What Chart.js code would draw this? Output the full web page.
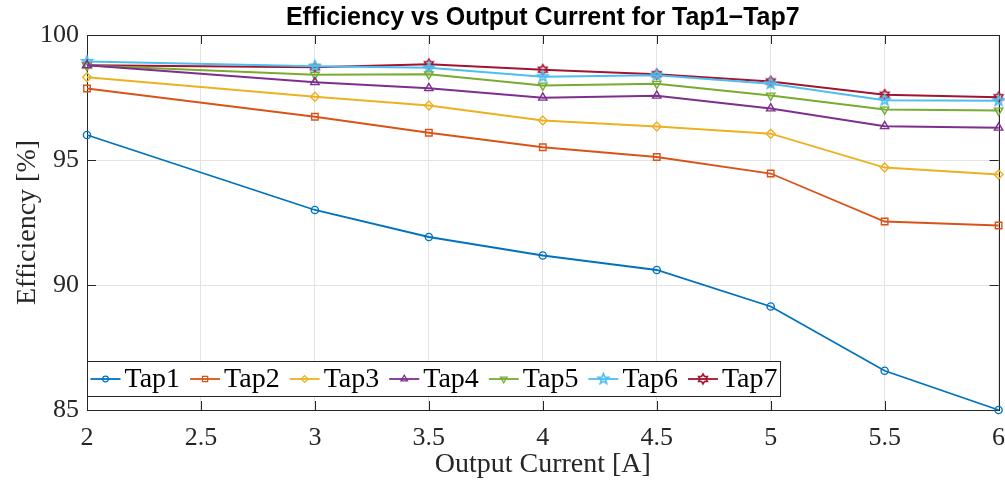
<!DOCTYPE html>
<html>
<head>
<meta charset="utf-8">
<title>Efficiency vs Output Current</title>
<script src="https://cdn.jsdelivr.net/npm/chart.js@4.4.1/dist/chart.umd.min.js"></script>
<style>
  html, body { margin: 0; padding: 0; background: #fff; }
</style>
</head>
<body>
<canvas id="myChart" width="1005" height="480"></canvas>
<script>
// datos medidos: corriente de salida [A] y eficiencia [%] por tap
const corriente = [2, 3, 3.5, 4, 4.5, 5, 5.5, 6];
const ticksX = [2, 2.5, 3, 3.5, 4, 4.5, 5, 5.5, 6];
const ticksY = [85, 90, 95, 100];

const taps = ["Tap1", "Tap2", "Tap3", "Tap4", "Tap5", "Tap6", "Tap7"];
const tap1 = [96.0, 93.0, 91.92, 91.18, 90.6, 89.14, 86.57, 85.0];
const tap2 = [97.86, 96.73, 96.09, 95.51, 95.12, 94.46, 92.54, 92.38];
const tap3 = [98.31, 97.53, 97.18, 96.58, 96.34, 96.05, 94.7, 94.42];
const tap4 = [98.79, 98.11, 97.87, 97.49, 97.57, 97.06, 96.35, 96.29];
const tap5 = [98.78, 98.41, 98.43, 97.98, 98.05, 97.58, 97.02, 96.98];
const tap6 = [98.94, 98.75, 98.69, 98.33, 98.39, 98.05, 97.39, 97.37];
const tap7 = [98.79, 98.71, 98.83, 98.61, 98.43, 98.14, 97.61, 97.51];

const colores = ["#0072BD", "#D95319", "#EDB120", "#7E2F8E", "#77AC30", "#4DBEEE", "#A2142F"];
const ejeColor = "#262626";

// marcadores de estrella (pentagrama y hexagrama) dibujados en un canvas chico
function estrella(puntas, color, r) {
    const c = document.createElement("canvas");
    const s = Math.ceil(r * 2 + 4);
    c.width = s;
    c.height = s;
    const ctx = c.getContext("2d");
    const ri = puntas === 5 ? r * 0.42 : r * 0.58;
    ctx.strokeStyle = color;
    ctx.lineWidth = 1.6;
    ctx.beginPath();
    for (let i = 0; i < puntas * 2; i++) {
        const a = -Math.PI / 2 + i * Math.PI / puntas;
        const rr = i % 2 === 0 ? r : ri;
        const px = s / 2 + rr * Math.cos(a);
        const py = s / 2 + rr * Math.sin(a);
        if (i === 0) ctx.moveTo(px, py); else ctx.lineTo(px, py);
    }
    ctx.closePath();
    ctx.stroke();
    return c;
}

const marcadores = [
    { pointStyle: "circle", pointRadius: 3.6, rotation: 0 },
    { pointStyle: "rect", pointRadius: 4.6, rotation: 0 },
    { pointStyle: "rectRot", pointRadius: 4.4, rotation: 0 },
    { pointStyle: "triangle", pointRadius: 4.8, rotation: 0 },
    { pointStyle: "triangle", pointRadius: 4.8, rotation: 180 },
    { pointStyle: estrella(5, colores[5], 5.5), pointRadius: 5, rotation: 0 },
    { pointStyle: estrella(6, colores[6], 5), pointRadius: 5, rotation: 0 }
];

const series = [tap1, tap2, tap3, tap4, tap5, tap6, tap7];

const datasets = series.map((valores, i) => ({
    label: taps[i],
    data: corriente.map((x, j) => ({ x, y: valores[j] })),
    borderColor: colores[i],
    backgroundColor: colores[i],
    pointBorderColor: colores[i],
    pointBackgroundColor: "rgba(0,0,0,0)",
    borderWidth: 1.8,
    pointBorderWidth: 1.4,
    pointStyle: marcadores[i].pointStyle,
    pointRadius: marcadores[i].pointRadius,
    pointRotation: marcadores[i].rotation,
    tension: 0,
    clip: false
}));

// caja del eje con marcas hacia adentro (estilo MATLAB)
const cajaEjes = {
    id: "cajaEjes",
    beforeDatasetsDraw(chart) {
        const { ctx, chartArea: a, scales } = chart;
        const largo = 9;
        ctx.save();
        ctx.strokeStyle = ejeColor;
        ctx.lineWidth = 1;
        ctx.beginPath();
        scales.x.ticks.forEach(t => {
            const px = Math.round(scales.x.getPixelForValue(t.value)) + 0.5;
            ctx.moveTo(px, a.bottom); ctx.lineTo(px, a.bottom - largo);
            ctx.moveTo(px, a.top); ctx.lineTo(px, a.top + largo);
        });
        scales.y.ticks.forEach(t => {
            const py = Math.round(scales.y.getPixelForValue(t.value)) + 0.5;
            ctx.moveTo(a.left, py); ctx.lineTo(a.left + largo, py);
            ctx.moveTo(a.right, py); ctx.lineTo(a.right - largo, py);
        });
        ctx.stroke();
        ctx.strokeRect(Math.round(a.left) + 0.5, Math.round(a.top) + 0.5,
            Math.round(a.right - a.left), Math.round(a.bottom - a.top));
        ctx.restore();
    }
};

// leyenda horizontal dentro del area del grafico, abajo a la izquierda
const leyendaInterna = {
    id: "leyendaInterna",
    afterDatasetsDraw(chart) {
        const { ctx, chartArea: a } = chart;
        const fuente = "28px 'Liberation Serif', 'Times New Roman', serif";
        const linea = 30;
        const sep = 10;
        ctx.save();
        ctx.font = fuente;
        const anchos = chart.data.datasets.map(d => ctx.measureText(d.label).width);
        const izq = Math.round(a.left) + 0.5;
        const arriba = 361.5;
        const alto = 35;
        let total = 3;
        anchos.forEach(w => { total += linea + 4 + w + sep; });
        total -= sep - 3;

        ctx.fillStyle = "#fff";
        ctx.fillRect(izq, arriba, total, alto);
        ctx.strokeStyle = ejeColor;
        ctx.lineWidth = 1;
        ctx.strokeRect(izq, arriba, total, alto);

        const yc = arriba + alto / 2;
        let x = izq + 3;
        chart.data.datasets.forEach((d, i) => {
            ctx.strokeStyle = d.borderColor;
            ctx.lineWidth = 1.8;
            ctx.beginPath();
            ctx.moveTo(x, yc);
            ctx.lineTo(x + linea, yc);
            ctx.stroke();

            ctx.fillStyle = "rgba(0,0,0,0)";
            ctx.lineWidth = 1.2;
            Chart.helpers.drawPoint(ctx, {
                pointStyle: d.pointStyle,
                radius: d.pointRadius * 0.8,
                rotation: d.pointRotation,
                borderWidth: 1.2
            }, x + linea / 2, yc);

            ctx.fillStyle = "#000";
            ctx.textAlign = "left";
            ctx.textBaseline = "middle";
            ctx.font = fuente;
            ctx.fillText(d.label, x + linea + 4, yc + 1);
            x += linea + 4 + anchos[i] + sep;
        });
        ctx.restore();
    }
};

const fuenteSerif = "'Liberation Serif', 'Times New Roman', serif";

const config = {
    type: "line",
    data: { datasets },
    options: {
        responsive: false,
        animation: false,
        devicePixelRatio: 1,
        layout: { padding: { left: 0, right: 5, top: 0, bottom: 0 } },
        plugins: {
            legend: { display: false },
            tooltip: { enabled: false },
            title: {
                display: true,
                text: "Efficiency vs Output Current for Tap1\u2212Tap7",
                fullSize: false,
                color: "#000",
                font: { family: "'Liberation Sans', Arial, sans-serif", size: 25, weight: "bold", lineHeight: 1.2 },
                padding: { top: 3, bottom: 2 }
            }
        },
        scales: {
            x: {
                type: "linear",
                min: 2,
                max: 6,
                afterBuildTicks: s => { s.ticks = ticksX.map(v => ({ value: v })); },
                afterFit: s => { s.height = 70; s.paddingLeft = 0; s.paddingRight = 0; },
                ticks: {
                    color: ejeColor,
                    padding: 13,
                    maxRotation: 0,
                    callback: v => String(v),
                    font: { family: fuenteSerif, size: 26 }
                },
                grid: { color: "#e3e3e3", lineWidth: 1, drawTicks: false },
                border: { display: false },
                title: {
                    display: true,
                    text: "Output Current [A]",
                    color: ejeColor,
                    font: { family: fuenteSerif, size: 28, lineHeight: 1 },
                    padding: { top: 0, bottom: 1 }
                }
            },
            y: {
                type: "linear",
                min: 85,
                max: 100,
                afterBuildTicks: s => { s.ticks = ticksY.map(v => ({ value: v })); },
                afterFit: s => { s.width = 87; },
                ticks: {
                    color: ejeColor,
                    padding: 8,
                    font: { family: fuenteSerif, size: 26 }
                },
                grid: { color: "#e3e3e3", lineWidth: 1, drawTicks: false },
                border: { display: false },
                title: {
                    display: true,
                    text: "Efficiency [%]",
                    color: ejeColor,
                    font: { family: fuenteSerif, size: 28, lineHeight: 1 },
                    padding: { top: 14, bottom: 0 }
                }
            }
        }
    },
    plugins: [cajaEjes, leyendaInterna]
};

const chart = new Chart(document.getElementById("myChart"), config);
</script>
</body>
</html>
